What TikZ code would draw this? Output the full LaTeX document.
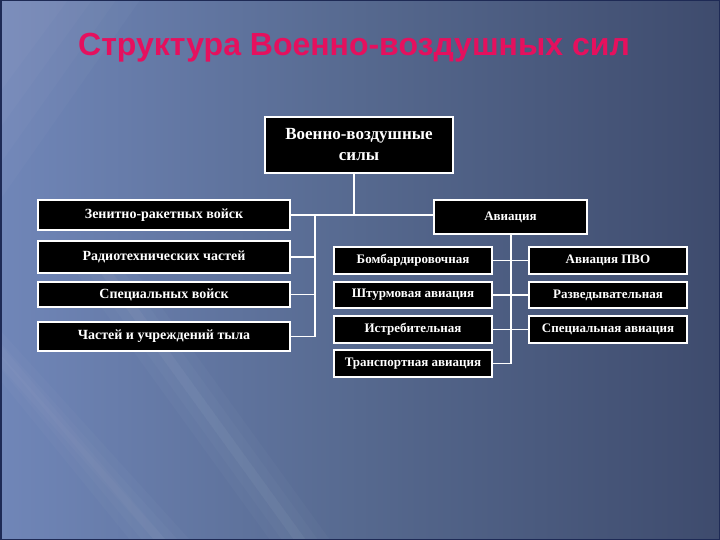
\documentclass[tikz,border=0pt]{standalone}
\usepackage{fontspec}
\setmainfont{Liberation Serif}
\newfontfamily\titlefont{Liberation Sans}
\usetikzlibrary{positioning,calc}
\definecolor{bgL}{HTML}{7086B8}
\definecolor{bgM}{HTML}{56698F}
\definecolor{bgR}{HTML}{3E4B6D}
\definecolor{titlec}{HTML}{E5105E}
\definecolor{framec}{HTML}{1E2A55}
\tikzset{
  box/.style={draw=white, line width=1.6pt, fill=black, text=white, inner sep=0pt,
    align=center, font=\fontsize{13}{15}\selectfont\bfseries},
  lbox/.style={box, minimum width=252, font=\fontsize{14}{16}\selectfont\bfseries},
  sbox/.style={box, minimum width=158},
  conn/.style={draw=white, line width=1.1pt},
  glow/.style={fill=white, opacity=0.025},
}
\begin{document}
\begin{tikzpicture}[x=1pt,y=-1pt]
\useasboundingbox (0,0) rectangle (720,540);
% background
\shade[left color=bgL, right color=bgR, middle color=bgM] (0,0) rectangle (720,540);
\foreach \d in {0,12,24,36} {
  \fill[glow] (0,330+\d) -- (0,380-\d) -- (130+\d,540) -- (190-\d,540) -- cycle;
  \fill[glow] (60+\d,250) -- (120-\d,250) -- (330-\d,540) -- (270+\d,540) -- cycle;
  \fill[glow] (0,0) -- (140-2*\d,0) -- (0,200-3*\d) -- cycle;
}
\draw[framec, line width=1.5pt] (0.75,0.75) rectangle (719.25,539.25);
% title
\node[font=\titlefont\fontsize{32}{36}\selectfont\bfseries, text=titlec] (title) at (354,48) {Структура Военно-воздушных сил};
% top box
\node[box, line width=2.2pt, minimum width=188, minimum height=56, font=\fontsize{17}{21}\selectfont\bfseries] (top) at (359,145) {Военно-воздушные\\силы};
% left column
\node[lbox, minimum height=30] (l1) at (164,215) {Зенитно-ракетных войск};
\node[lbox, minimum height=32] (l2) at (164,257) {Радиотехнических частей};
\node[lbox, minimum height=25] (l3) at (164,294.5) {Специальных войск};
\node[lbox, minimum height=29] (l4) at (164,336.5) {Частей и учреждений тыла};
% aviation
\node[box, minimum width=153, minimum height=34] (av) at (510.5,217) {Авиация};
% middle column
\node[sbox, minimum height=27] (m1) at (413,260.5) {Бомбардировочная};
\node[sbox, minimum height=26] (m2) at (413,295) {Штурмовая авиация};
\node[sbox, minimum height=27] (m3) at (413,329.5) {Истребительная};
\node[sbox, minimum height=27] (m4) at (413,363.5) {Транспортная авиация};
% right column
\node[sbox, minimum height=27] (r1) at (608,260.5) {Авиация ПВО};
\node[sbox, minimum height=26] (r2) at (608,295) {Разведывательная};
\node[sbox, minimum height=27] (r3) at (608,329.5) {Специальная авиация};
% connectors
\coordinate (busL) at (315,0);
\coordinate (busA) at (511,0);
\draw[conn] ([xshift=-5pt]top.south) -- ([xshift=-5pt]top.south |- l1.east);
\draw[conn] (l1.east) -- (l1.east -| av.west);
\draw[conn] (busL |- l1.east) -- (busL |- l4.east);
\draw[conn] (l2.east) -- (l2.east -| busL);
\draw[conn] (l3.east) -- (l3.east -| busL);
\draw[conn] (l4.east) -- (l4.east -| busL);
\draw[conn] (busA |- av.south) -- (busA |- m4.east);
\draw[conn] (m1.east) -- (r1.west);
\draw[conn] (m2.east) -- (r2.west);
\draw[conn] (m3.east) -- (r3.west);
\draw[conn] (m4.east) -- (m4.east -| busA);
\end{tikzpicture}
\end{document}
